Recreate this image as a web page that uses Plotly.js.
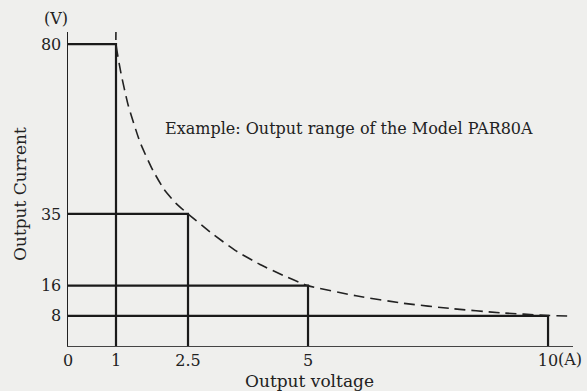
<!DOCTYPE html>
<html>
<head>
<meta charset="utf-8">
<script src="https://cdn.plot.ly/plotly-3.0.1.min.js"></script>
<style>html,body{margin:0;padding:0;background:#efefed;}#chart{width:587px;height:391px;}</style>
</head>
<body>
<div id="chart"></div>
<script>
// Output ranges (corner points): current limit (A) and voltage (V)
const rangeCurrent = [1, 2.5, 5, 10];
const rangeVoltage = [80, 35, 16, 8];
// Constant-power boundary (dashed)
const curveCurrent = [1, 1, 1.1, 1.25, 1.5, 1.75, 2, 2.25, 2.5, 3, 3.5, 4, 4.5, 5, 6, 7, 8, 9, 10, 10.5];
const curveVoltage = [84, 80, 72.5, 64, 54, 47, 41.5, 37.8, 35, 29.8, 25.2, 21.6, 18.6, 16, 13.3, 11.3, 9.9, 8.8, 8.1, 7.9];
// Tick labels
const xTickVals = [0, 1, 2.5, 5, 10];
const xTickText = ['0', '1', '2.5', '5', '10'];
const yTickVals = [8, 16, 35, 80];
const yTickText = ['8', '16', '35', '80'];

const FONT = 'DejaVu Serif';
const INK = '#1a1a1a';
const TXT = '#222';

const traces = [];
rangeCurrent.forEach((c, i) => {
  const v = rangeVoltage[i];
  traces.push({
    x: [0, c, c], y: [v, v, 0],
    type: 'scatter', mode: 'lines',
    line: {color: INK, width: 2.2},
    hoverinfo: 'skip', showlegend: false
  });
});
traces.push({
  x: curveCurrent, y: curveVoltage,
  type: 'scatter', mode: 'lines',
  line: {color: '#222', width: 1.6, dash: '11px,6px', shape: 'spline', smoothing: 0.5},
  hoverinfo: 'skip', showlegend: false
});

const layout = {
  width: 587, height: 391,
  margin: {l: 68, r: 14, t: 32, b: 45},
  paper_bgcolor: '#efefed', plot_bgcolor: '#efefed',
  font: {family: FONT, size: 16, color: TXT},
  xaxis: {
    range: [0, 10.52], showgrid: false, zeroline: false,
    showline: true, linecolor: '#444', linewidth: 1.2,
    tickmode: 'array', tickvals: xTickVals, ticktext: xTickText,
    ticks: '', ticklabelstandoff: 0,
    tickfont: {family: FONT, size: 16, color: TXT}
  },
  yaxis: {
    range: [0, 83.2], showgrid: false, zeroline: false,
    showline: true, linecolor: '#222', linewidth: 1.5,
    tickmode: 'array', tickvals: yTickVals, ticktext: yTickText,
    ticks: '', ticklabelstandoff: 2,
    tickfont: {family: FONT, size: 16, color: TXT}
  },
  annotations: [
    {text: 'Example: Output range of the Model PAR80A', x: 1.98, y: 57.7, xref: 'x', yref: 'y',
     xanchor: 'left', yanchor: 'middle', showarrow: false, font: {family: FONT, size: 16, color: TXT}},
    {text: '(V)', xref: 'paper', yref: 'paper', x: (56 - 68) / 505, y: (346 - 19) / 314,
     xanchor: 'center', yanchor: 'middle', showarrow: false, font: {family: FONT, size: 16, color: TXT}},
    {text: 'Output voltage', xref: 'paper', yref: 'paper', x: (309 - 68) / 505, y: (346 - 381) / 314,
     xanchor: 'center', yanchor: 'middle', showarrow: false, font: {family: FONT, size: 17, color: TXT}},
    {text: 'Output Current', xref: 'paper', yref: 'paper', x: (20 - 68) / 505, y: (346 - 194) / 314,
     xanchor: 'center', yanchor: 'middle', textangle: -90, showarrow: false, font: {family: FONT, size: 17, color: TXT}},
    {text: '(A)', xref: 'x', yref: 'paper', x: 10, y: (346 - 359) / 314, xshift: 8,
     xanchor: 'left', yanchor: 'middle', showarrow: false, font: {family: FONT, size: 16, color: TXT}}
  ]
};

Plotly.newPlot('chart', traces, layout, {displayModeBar: false, staticPlot: true});
</script>
</body>
</html>
